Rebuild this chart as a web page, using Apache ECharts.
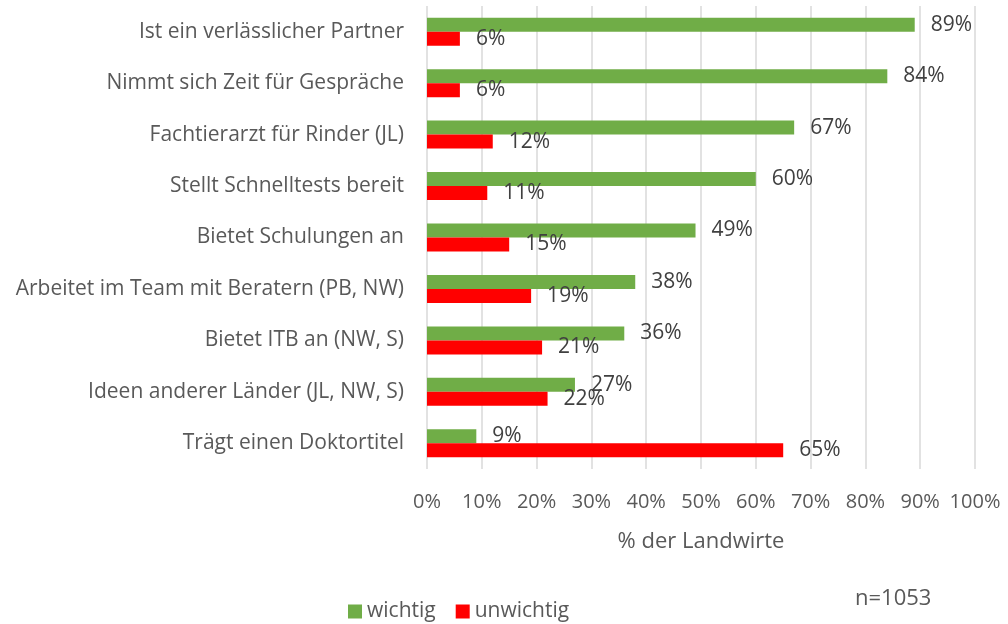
<!DOCTYPE html>
<html>
<head>
<meta charset="utf-8">
<script src="https://cdn.jsdelivr.net/npm/echarts@6/dist/echarts.min.js"></script>
<style>
  html, body { margin: 0; padding: 0; background: #fff; }
  #chart { width: 1008px; height: 624px; }
</style>
</head>
<body>
<div id="chart"></div>
<script>
var categories = [
  'Ist ein verlässlicher Partner',
  'Nimmt sich Zeit für Gespräche',
  'Fachtierarzt für Rinder (JL)',
  'Stellt Schnelltests bereit',
  'Bietet Schulungen an',
  'Arbeitet im Team mit Beratern (PB, NW)',
  'Bietet ITB an (NW, S)',
  'Ideen anderer Länder (JL, NW, S)',
  'Trägt einen Doktortitel'
];
var wichtig = [89, 84, 67, 60, 49, 38, 36, 27, 9];
var unwichtig = [6, 6, 12, 11, 15, 19, 21, 22, 65];

var font = '"Open Sans", "Noto Sans", sans-serif';
var ink = '#595959';
var labelInk = '#404040';

var chart = echarts.init(document.getElementById('chart'), null, { renderer: 'canvas' });

function barLabel() {
  return {
    show: true,
    position: 'right',
    distance: 16,
    formatter: '{c}%',
    color: labelInk,
    fontSize: 21,
    fontFamily: font
  };
}

chart.setOption({
  animation: false,
  textStyle: { fontFamily: font },
  grid: { left: 427, width: 548, top: 6, height: 463, containLabel: false },
  xAxis: {
    type: 'value',
    min: 0,
    max: 100,
    interval: 10,
    name: '% der Landwirte',
    nameLocation: 'middle',
    nameGap: 62,
    nameTextStyle: { color: ink, fontSize: 22, fontFamily: font },
    axisLabel: { formatter: '{value}%', color: ink, fontSize: 20, margin: 23, fontFamily: font },
    axisLine: { show: false },
    axisTick: { show: false },
    splitLine: { lineStyle: { color: '#d9d9d9', width: 1.5 } }
  },
  yAxis: {
    type: 'category',
    inverse: true,
    data: categories,
    axisLabel: { color: ink, fontSize: 21, margin: 23, fontFamily: font },
    axisLine: { show: false },
    axisTick: { show: false },
    splitLine: { show: false }
  },
  legend: {
    left: 343,
    top: 596,
    itemWidth: 14,
    itemHeight: 14,
    itemGap: 20,
    icon: 'rect',
    textStyle: { color: ink, fontSize: 21, fontFamily: font },
    data: ['wichtig', 'unwichtig']
  },
  graphic: [{
    type: 'text',
    left: 855,
    top: 588,
    style: { text: 'n=1053', fill: ink, fontSize: 22, fontFamily: font }
  }],
  series: [
    {
      name: 'wichtig',
      type: 'bar',
      data: wichtig,
      barWidth: 14,
      barGap: '0%',
      itemStyle: { color: '#70AD47' },
      label: barLabel()
    },
    {
      name: 'unwichtig',
      type: 'bar',
      data: unwichtig,
      barWidth: 14,
      barGap: '0%',
      itemStyle: { color: '#FF0000' },
      label: barLabel()
    }
  ]
});
</script>
</body>
</html>
